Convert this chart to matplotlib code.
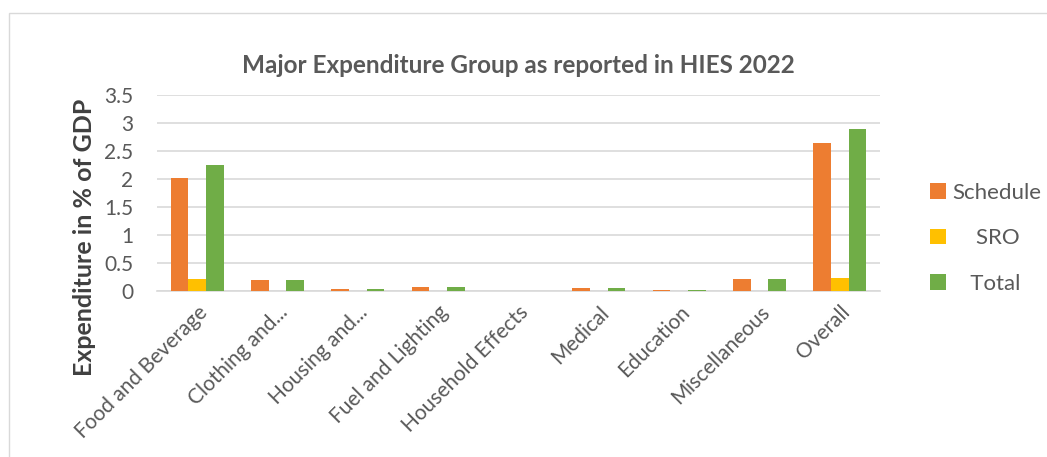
import matplotlib.pyplot as plt
import numpy as np
from matplotlib.patches import Rectangle

plt.rcParams['font.family'] = ['Lato', 'DejaVu Sans']

categories = ['Food and Beverage', 'Clothing and...', 'Housing and...', 'Fuel and Lighting',
              'Household Effects', 'Medical', 'Education', 'Miscellaneous', 'Overall']
schedule = [2.02, 0.19, 0.03, 0.07, 0.0, 0.06, 0.01, 0.22, 2.65]
sro = [0.22, 0.0, 0.0, 0.0, 0.0, 0.0, 0.0, 0.0, 0.23]
total = [2.25, 0.19, 0.03, 0.07, 0.0, 0.06, 0.01, 0.22, 2.89]
yticks = [0, 0.5, 1, 1.5, 2, 2.5, 3, 3.5]
ytick_labels = ['0', '0.5', '1', '1.5', '2', '2.5', '3', '3.5']

fig = plt.figure(figsize=(10.47, 4.57), dpi=100)
# chart area border
fig.patches.append(Rectangle((9 / 1047, -0.1), 1.2, 1 - 13 / 457 + 0.1,
                             transform=fig.transFigure, fill=False,
                             edgecolor='#d9d9d9', linewidth=1))

ax = fig.add_axes([157 / 1047, 1 - 291 / 457, 723 / 1047, 196 / 457])

x = np.arange(len(categories))
w = 0.22
ax.bar(x - w, schedule, w, color='#ed7d31', label='Schedule', zorder=3)
ax.bar(x, sro, w, color='#ffc000', label='    SRO', zorder=3)
ax.bar(x + w, total, w, color='#70ad47', label='   Total', zorder=3)

ax.set_xlim(-0.5, len(categories) - 0.5)
ax.set_ylim(0, 3.5)
ax.set_yticks(yticks)
ax.set_yticklabels(ytick_labels, fontsize=15, color='#595959')
ax.yaxis.grid(True, color='#d9d9d9', linewidth=1.2, zorder=0)
ax.set_xticks(x)
ax.set_xticklabels(categories, rotation=45, ha='right', rotation_mode='anchor',
                   fontsize=15, color='#595959')
ax.tick_params(axis='y', length=0, pad=17)
ax.tick_params(axis='x', length=0, pad=8)
for s in ['top', 'right', 'left']:
    ax.spines[s].set_visible(False)
ax.spines['bottom'].set_color('#d9d9d9')
ax.spines['bottom'].set_linewidth(1.2)

ax.set_ylabel('Expenditure in % of GDP', fontsize=18, fontweight='bold', color='#404040')
ax.yaxis.set_label_coords(-0.085, 0.275)
ax.set_title('Major Expenditure Group as reported in HIES 2022', fontsize=17.5,
             fontweight='bold', color='#595959', pad=16)

leg = ax.legend(loc='center left', bbox_to_anchor=(1.042, 0.27), frameon=False,
                fontsize=16, handlelength=0.7, handleheight=0.7, handletextpad=0.3,
                labelspacing=1.15)
for t in leg.get_texts():
    t.set_color('#595959')

fig.savefig('out.png', dpi=100)
